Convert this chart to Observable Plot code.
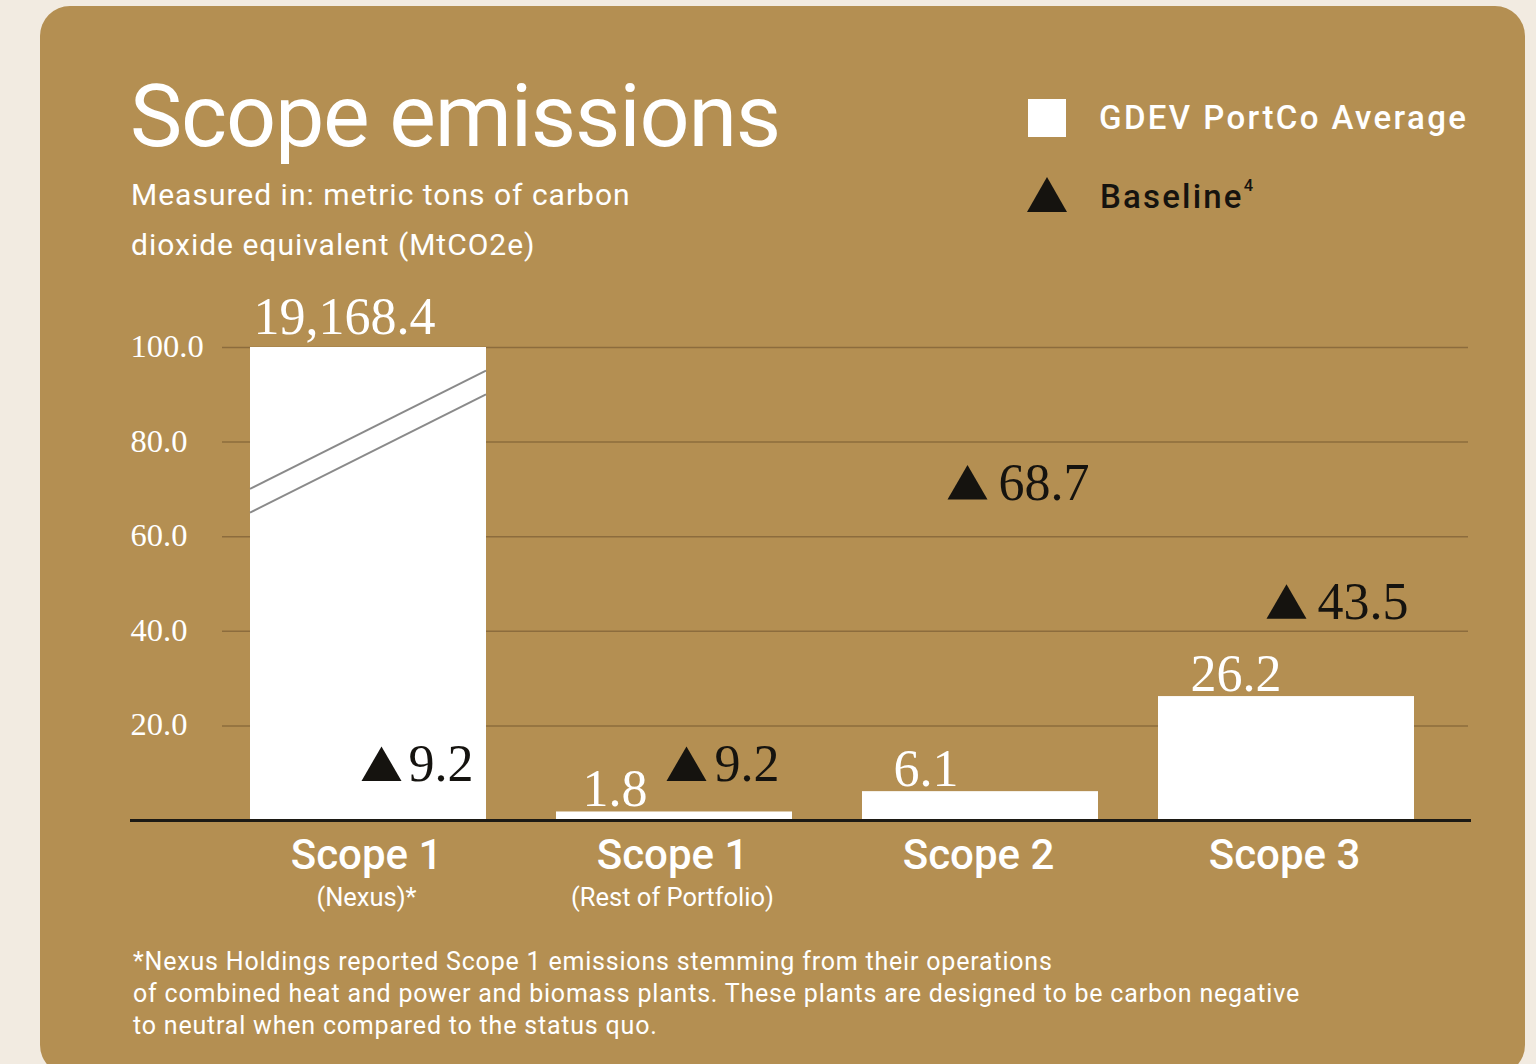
<!DOCTYPE html>
<html>
<head>
<meta charset="utf-8">
<script src="https://cdn.jsdelivr.net/npm/d3@7"></script>
<script src="https://cdn.jsdelivr.net/npm/@observablehq/plot@0.6"></script>
<style>
  html, body { margin: 0; padding: 0; }
  body { width: 1536px; height: 1064px; background: #f2ebe1; position: relative; overflow: hidden; font-family: Roboto, sans-serif; }
  #card { position: absolute; left: 40px; top: 6px; width: 1485px; height: 1069px; background: #b48f52; border-radius: 30px; }
  .abs { position: absolute; margin: 0; white-space: nowrap; line-height: 1; }
  #title { left: 130px; top: 72px; font-size: 88px; color: #fff; font-weight: 400; letter-spacing: -1.2px; }
  #subtitle { left: 131px; top: 170px; font-size: 30px; line-height: 50px; color: #fff; font-weight: 400; letter-spacing: 1px; }
  #legend-sq { left: 1028px; top: 99px; width: 38px; height: 38px; background: #fff; }
  #legend-tri { left: 1027px; top: 177px; width: 40px; height: 35px; background: #15130f; clip-path: polygon(50% 0, 100% 100%, 0 100%); }
  #legend-1 { left: 1099px; top: 101px; font-size: 33px; font-weight: 500; color: #fff; letter-spacing: 2.4px; }
  #legend-2 { left: 1100px; top: 180px; font-size: 33px; font-weight: 500; color: #15130f; letter-spacing: 2.2px; }
  #legend-2 sup { font-size: 0.5em; position: relative; top: -0.1em; vertical-align: top; letter-spacing: 0; }
  #chart { position: absolute; left: 40px; top: 290px; }
  #footnote { left: 133px; top: 946px; font-size: 25px; line-height: 32px; color: #fff; letter-spacing: 0.8px; }
</style>
</head>
<body>
<div id="card"></div>
<div class="abs" id="title">Scope emissions</div>
<div class="abs" id="subtitle">Measured in: metric tons of carbon<br>dioxide equivalent (MtCO2e)</div>
<div class="abs" id="legend-sq"></div>
<div class="abs" id="legend-1">GDEV PortCo Average</div>
<div class="abs" id="legend-tri"></div>
<div class="abs" id="legend-2">Baseline<sup>4</sup></div>
<div id="chart"></div>
<div class="abs" id="footnote">*Nexus Holdings reported Scope 1 emissions stemming from their operations<br>of combined heat and power and biomass plants. These plants are designed to be carbon negative<br>to neutral when compared to the status quo.</div>

<script>
// ---- Data ----
const categories = ["Scope 1 (Nexus)", "Scope 1 (Rest of Portfolio)", "Scope 2", "Scope 3"];
const mainLabels = ["Scope 1", "Scope 1", "Scope 2", "Scope 3"];
const subLabels = ["(Nexus)*", "(Rest of Portfolio)", "", ""];
const portcoAverage = [19168.4, 1.8, 6.1, 26.2];
const baselineValues = [9.2, 9.2, 68.7, 43.5];
const yTicks = [20, 40, 60, 80, 100];

const data = categories.map((c, i) => ({category: c, portco: portcoAverage[i], baseline: baselineValues[i]}));

// ---- Styles ----
const SERIF = "'Liberation Serif', 'Times New Roman', serif";
const SANS = "Roboto, sans-serif";
const INK = "#15130f";
const GRID = "#8c6c3d";

// per-category label nudges (style only)
const valueDx = [-115, -92, -87, -96];
const valueDy = [-14, -6, -6, -6];
const triDx = [13, 12, -13, 0];
const triTextDx = [40, 40, 18, 31];

const fmt = d3.format(",.1f");

const marks = [
  Plot.ruleY(yTicks, {stroke: GRID, strokeWidth: 1.5, insetLeft: 7, insetRight: -29}),
  Plot.axisY({ticks: yTicks, tickFormat: d => d.toFixed(1), tickSize: 0, tickPadding: 0, textAnchor: "start", dx: -85, dy: -1,
    fill: "#fff", fontSize: 32.5, fontFamily: SERIF, label: null}),
  Plot.barY(data.filter(d => d.category !== "Scope 3"), {x: "category", y: "portco", fill: "#fff"}),
  Plot.barY(data.filter(d => d.category === "Scope 3"), {x: "category", y: "portco", fill: "#fff", insetLeft: -10, insetRight: -10}),
  Plot.ruleY([0], {stroke: "#1c1a15", strokeWidth: 3, insetLeft: -85, insetRight: -32}),
  Plot.axisX({tickSize: 0, tickPadding: 19, tickFormat: d => mainLabels[categories.indexOf(d)],
    fill: "#fff", fontSize: 42, fontWeight: 500, fontFamily: SANS, label: null, dx: -2}),
  Plot.axisX({tickSize: 0, tickPadding: 67, tickFormat: d => subLabels[categories.indexOf(d)],
    fill: "#fff", fontSize: 25.5, fontWeight: 400, fontFamily: SANS, label: null, dx: -2})
];

data.forEach((d, i) => {
  marks.push(
    Plot.text([d], {x: "category", y: "portco", text: r => fmt(r.portco), textAnchor: "start", lineAnchor: "bottom",
      dx: valueDx[i], dy: valueDy[i], fill: "#fff", fontSize: 52, fontFamily: SERIF}),
    Plot.dot([d], {x: "category", y: "baseline", symbol: "triangle", r: 14.85, fill: INK, stroke: null,
      dx: triDx[i], dy: -7.5}),
    Plot.text([d], {x: "category", y: "baseline", text: r => fmt(r.baseline), textAnchor: "start", lineAnchor: "bottom",
      dx: triTextDx[i], dy: 4, fill: INK, fontSize: 52, fontFamily: SERIF})
  );
});

const chart = Plot.plot({
  width: 1485,
  height: 630,
  marginLeft: 175,
  marginRight: 86,
  marginTop: 57,
  marginBottom: 100,
  style: {background: "transparent", overflow: "visible"},
  x: {domain: categories, paddingInner: 0.229, paddingOuter: 0.1144},
  y: {domain: [0, 100], clamp: true},
  marks
});

// axis-break marker on the clipped Nexus bar, placed through the plot's own scales
const xs = chart.scale("x"), ys = chart.scale("y");
const bx0 = xs.apply(categories[0]), bx1 = bx0 + xs.bandwidth;
const breakLines = [[70, 95], [65, 90]];
const g = d3.select(chart).append("g").attr("stroke", "#8a8a8a").attr("stroke-width", 2);
breakLines.forEach(([lo, hi]) => {
  g.append("line").attr("x1", bx0).attr("x2", bx1).attr("y1", ys.apply(lo)).attr("y2", ys.apply(hi));
});
// keep labels above the break marker
d3.select(chart).selectAll("g[aria-label='text']").raise();
d3.select(chart).selectAll("g[aria-label='dot']").raise();

document.getElementById("chart").appendChild(chart);
</script>
</body>
</html>
